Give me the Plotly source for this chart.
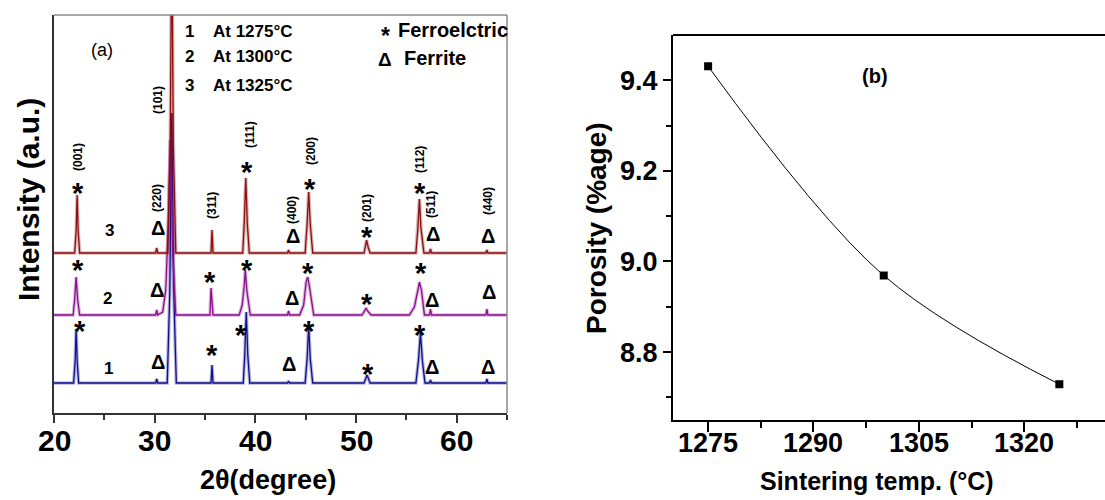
import plotly.graph_objects as go

W, H = 1105, 500

# ---------------- Panel (a): XRD patterns ----------------
two_theta_1275 = [20, 21.95, 22.1, 22.2, 22.3, 22.45, 30.1, 30.2, 30.3, 31.25, 31.5, 31.7, 31.9, 32.15,
                  35.6, 35.7, 35.8, 38.8, 38.95, 39.1, 39.25, 39.45, 43.2, 43.3, 43.4,
                  44.95, 45.15, 45.3, 45.45, 45.7, 50.8, 51.1, 51.4, 55.95, 56.2, 56.4, 56.6, 56.85,
                  57.3, 57.4, 57.5, 62.9, 63.0, 63.1, 65]
intensity_1275 = [0, 0, 22, 54, 22, 0, 0, 4, 0, 0, 90, 270, 90, 0,
                  0, 18, 0, 0, 28, 71, 28, 0, 0, 2, 0,
                  0, 25, 58, 25, 0, 0, 8, 0, 0, 22, 50, 22, 0,
                  0, 3, 0, 0, 4, 0, 0]

two_theta_1300 = [20, 21.9, 22.05, 22.2, 22.35, 22.55, 30.1, 30.2, 30.3, 30.8, 31.1, 31.35, 31.55, 31.8, 32.1,
                  35.5, 35.6, 35.7, 35.8, 38.4, 38.7, 38.9, 39.0, 39.15, 39.5, 43.2, 43.3, 43.4,
                  44.4, 44.8, 45.05, 45.2, 45.35, 45.8, 50.6, 50.9, 51.0, 51.15, 51.5,
                  55.3, 55.8, 56.15, 56.3, 56.5, 56.8, 57.3, 57.4, 57.5, 62.9, 63.0, 63.1, 65]
intensity_1300 = [0, 0, 15, 38, 15, 0, 0, 5, 0, 3, 25, 90, 175, 60, 0,
                  0, 27, 10, 0, 0, 10, 30, 45, 25, 0, 0, 4, 0,
                  0, 10, 33, 38, 30, 0, 0, 5, 7, 4, 0,
                  0, 8, 25, 33, 25, 0, 0, 6, 0, 0, 6, 0, 0]

two_theta_1325 = [20, 22.05, 22.2, 22.3, 22.4, 22.55, 30.1, 30.2, 30.3, 31.3, 31.55, 31.7, 31.85, 32.1,
                  35.6, 35.7, 35.8, 38.75, 38.9, 39.05, 39.2, 39.4, 43.2, 43.3, 43.4,
                  44.95, 45.15, 45.3, 45.45, 45.7, 50.8, 50.95, 51.05, 51.2, 51.4,
                  55.95, 56.15, 56.3, 56.45, 56.75, 57.3, 57.4, 57.5, 62.9, 63.0, 63.1, 65]
intensity_1325 = [0, 0, 22, 58, 22, 0, 0, 5, 0, 0, 110, 330, 110, 0,
                  0, 23, 0, 0, 30, 75, 30, 0, 0, 3, 0,
                  0, 30, 61, 30, 0, 0, 8, 13, 6, 0,
                  0, 25, 54, 25, 0, 0, 4, 0, 0, 3, 0, 0]

stack_offsets = [30, 98, 160]          # vertical offsets of patterns 1, 2, 3
series_names = ["At 1275°C", "At 1300°C", "At 1325°C"]
series_colors = ["#10108c", "#8c108c", "#8c0f0f"]
xrd_ticks = [20, 30, 40, 50, 60]

# ---------------- Panel (b): porosity ----------------
sinter_temp = [1275, 1300, 1325]
porosity = [9.431, 8.969, 8.729]
temp_ticks = [1275, 1290, 1305, 1320]
por_ticks = [8.8, 9.0, 9.2, 9.4]
por_ticktext = ["8.8", "9.0", "9.2", "9.4"]

fig = go.Figure()

xs = [two_theta_1275, two_theta_1300, two_theta_1325]
ys = [intensity_1275, intensity_1300, intensity_1325]
for x, y, off, col, nm in zip(xs, ys, stack_offsets, series_colors, series_names):
    yy = [v + off for v in y]
    fig.add_trace(go.Scatter(x=x, y=yy, mode="lines", line=dict(color=col, width=3.5),
                             opacity=0.3, showlegend=False, hoverinfo="skip", xaxis="x", yaxis="y"))
    fig.add_trace(go.Scatter(x=x, y=yy, mode="lines", line=dict(color=col, width=1.3),
                             name=nm, showlegend=False, xaxis="x", yaxis="y"))

fig.add_trace(go.Scatter(x=sinter_temp, y=porosity, mode="lines+markers",
                         line=dict(color="black", width=1, shape="spline", smoothing=1.0),
                         marker=dict(symbol="square", size=8, color="black"),
                         showlegend=False, xaxis="x2", yaxis="y2"))

FONT = "Liberation Sans, Arial, sans-serif"

def px(xp, yp):
    return xp / W, 1 - yp / H

ann = []

def add_text(xp, yp, text, size, bold=True, angle=0, xanchor="center"):
    x, y = px(xp, yp)
    ann.append(dict(x=x, y=y, xref="paper", yref="paper", text=(f"<b>{text}</b>" if bold else text),
                    showarrow=False, textangle=angle, xanchor=xanchor, yanchor="middle",
                    font=dict(size=size, family=FONT, color="black")))

STAR_DY = 8
def star(xp, yp):
    add_text(xp, yp + STAR_DY, "*", 29)

def tri(xp, yp):
    add_text(xp, yp, "Δ", 20, bold=True)

# hkl labels
hkl = [("(001)", 78, 157), ("(101)", 158, 100), ("(220)", 157, 198), ("(311)", 212, 206),
       ("(111)", 250, 135), ("(400)", 292, 210), ("(200)", 311, 151), ("(201)", 367, 208),
       ("(112)", 420, 160), ("(511)", 431, 205), ("(440)", 488, 201)]
for t, xp, yp in hkl:
    add_text(xp, yp, t, 12, angle=-90)

# row 3 (red)
for xp, yp in [(78, 185), (247, 164), (310, 181), (367, 229), (420, 185)]:
    star(xp, yp)
for xp, yp in [(158, 228), (293, 236), (433, 234), (488, 236)]:
    tri(xp, yp)
# row 2 (purple)
for xp, yp in [(78, 262), (210, 274), (247, 262), (308, 265), (367, 296), (421, 265)]:
    star(xp, yp)
for xp, yp in [(157, 290), (292, 298), (432, 300), (489, 292)]:
    tri(xp, yp)
# row 1 (blue)
for xp, yp in [(80, 323), (212, 347), (241, 327), (309, 323), (368, 366), (420, 327)]:
    star(xp, yp)
for xp, yp in [(158, 362), (289, 364), (432, 367), (488, 367)]:
    tri(xp, yp)

add_text(110, 231, "3", 17)
add_text(107, 298, "2", 17)
add_text(108, 368, "1", 17)

# legend-like text
for i, (nm, yp) in enumerate(zip(series_names, [31, 57, 85])):
    add_text(189, yp, str(i + 1), 17)
    add_text(211, yp, nm, 17, xanchor="left")
add_text(385, 36, "*", 23)
add_text(396, 30, "Ferroelctric", 20, xanchor="left")
add_text(385, 59, "Δ", 19)
add_text(402, 58, "Ferrite", 20, xanchor="left")
add_text(102, 50, "(a)", 18, bold=False)

# axis titles
add_text(28, 200, "Intensity (a.u.)", 30, angle=-90)
add_text(268, 480, "2θ(degree)", 27)
add_text(597, 228, "Porosity (%age)", 28, angle=-90)
add_text(877, 481, "Sintering temp. (°C)", 25)
add_text(875, 76, "(b)", 20)

# x tick labels placed at data positions through the axes
for v in xrd_ticks:
    ann.append(dict(x=v, xref="x", y=1 - 440 / H, yref="paper", text=f"<b>{v}</b>", showarrow=False,
                    xanchor="center", yanchor="middle", font=dict(size=30, family=FONT, color="black")))
for v in temp_ticks:
    ann.append(dict(x=v, xref="x2", y=1 - 443 / H, yref="paper", text=f"<b>{v}</b>", showarrow=False,
                    xanchor="center", yanchor="middle", font=dict(size=27, family=FONT, color="black")))

shapes = [
    dict(type="line", xref="paper", yref="paper", x0=54 / W, x1=507 / W, y0=1 - 15 / H, y1=1 - 15 / H,
         line=dict(color="#8a8a8a", width=1.5)),
    dict(type="line", xref="paper", yref="paper", x0=507 / W, x1=507 / W, y0=1 - 15 / H, y1=1 - 413 / H,
         line=dict(color="#8a8a8a", width=1.5)),
    dict(type="line", xref="paper", yref="paper", x0=673 / W, x1=1.0, y0=1 - 35 / H, y1=1 - 35 / H,
         line=dict(color="black", width=2)),
]

fig.update_layout(
    width=W, height=H, margin=dict(l=0, r=0, t=0, b=0, autoexpand=False),
    paper_bgcolor="white", plot_bgcolor="white",
    showlegend=False, annotations=ann, shapes=shapes,
    xaxis=dict(domain=[54 / W, 507 / W], range=[20, 65], anchor="y", automargin=False,
               tickmode="array", tickvals=xrd_ticks, showticklabels=False,
               ticks="outside", ticklen=8, tickwidth=1.5, tickcolor="#333",
               minor=dict(tickmode="array", tickvals=[25, 35, 45, 55, 65], ticks="outside",
                          ticklen=5, tickwidth=1.5, tickcolor="#333"),
               showline=True, linecolor="#333", linewidth=1.5, showgrid=False, zeroline=False),
    yaxis=dict(domain=[1 - 413 / H, 1 - 15 / H], range=[0, 398], anchor="x", automargin=False,
               showticklabels=False, ticks="", showline=True, linecolor="#333", linewidth=1.5,
               showgrid=False, zeroline=False),
    xaxis2=dict(domain=[673 / W, 1.0], range=[1270, 1331.5], anchor="y2", automargin=False,
                tickmode="array", tickvals=temp_ticks, showticklabels=False,
                ticks="outside", ticklen=10, tickwidth=2, tickcolor="black",
                minor=dict(tickmode="array", tickvals=[1282.5, 1297.5, 1312.5, 1327.5], ticks="outside",
                           ticklen=6, tickwidth=2, tickcolor="black"),
                showline=True, linecolor="black", linewidth=2, showgrid=False, zeroline=False),
    yaxis2=dict(domain=[1 - 420 / H, 1 - 35 / H], range=[8.65, 9.5], anchor="x2", automargin=False,
                tickmode="array", tickvals=por_ticks, ticktext=por_ticktext,
                ticks="outside", ticklen=8, tickwidth=2, tickcolor="black",
                minor=dict(tickmode="array", tickvals=[8.7, 8.9, 9.1, 9.3], ticks="outside",
                           ticklen=5, tickwidth=2, tickcolor="black"),
                showline=True, linecolor="black", linewidth=2, showgrid=False, zeroline=False,
                tickfont=dict(family=FONT, size=27, color="black", weight="bold")),
)

fig.write_html("out.html")
